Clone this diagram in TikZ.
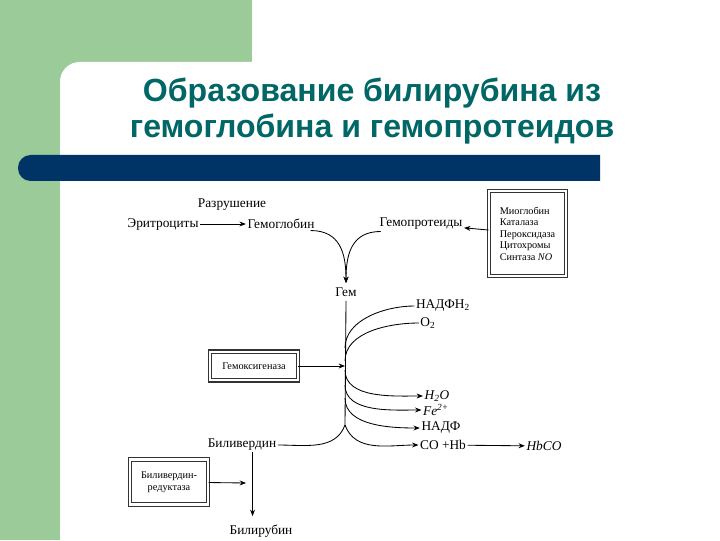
\documentclass[tikz,border=0pt]{standalone}
\usepackage{fontspec}
\setmainfont{Liberation Serif}
\newfontfamily\titlefont{Liberation Sans}
\usetikzlibrary{arrows.meta}
\definecolor{slidegreen}{RGB}{155,203,152}
\definecolor{slideblue}{RGB}{0,51,102}
\definecolor{titleteal}{RGB}{0,102,102}
\tikzset{
    lbl/.style={font=\fontsize{9.5}{11}\selectfont, inner sep=1pt},
    enzbox/.style={draw=black!80, double=white, double distance=1.5pt, line width=0.75pt,
        fill=white, font=\fontsize{7.3}{8.2}\selectfont, align=center, inner sep=2pt},
    flow/.style={-{Stealth[length=4.5pt,width=3.5pt]}, line width=0.6pt},
    link/.style={line width=0.6pt}
}

\begin{document}
\begin{tikzpicture}[x=0.025cm, y=0.025cm]
        \useasboundingbox (0,0) rectangle (720,540);
        % slide background
        \fill[slidegreen] (0,0) rectangle (252,540);
        \fill[white] (720,0) -- (60,0) [rounded corners=14pt] -- (60,478) [sharp corners] -- (720,478) -- cycle;
        \fill[slideblue] (600,385) [rounded corners=9pt] -- (18,385) -- (18,359) [sharp corners] -- (600,359) -- cycle;
        \node[text=titleteal, align=center, font=\titlefont\bfseries\fontsize{22.8}{25.8}\selectfont] (title) at (372,429)
            {Образование билирубина из\\гемоглобина и гемопротеидов};

        % top row
        \node[lbl] (razr) at (232,335) {Разрушение};
        \node[lbl] (ery) at (163,316) {Эритроциты};
        \node[lbl] (hb) at (281,316) {Гемоглобин};
        \node[lbl] (hp) at (421,316) {Гемопротеиды};
        \node[enzbox, align=left, minimum width=54.5pt, minimum height=60pt] (hpbox) at (527.5,306.5)
            {Миоглобин\\Каталаза\\Пероксидаза\\Цитохромы\\Синтаза \textit{NO}};
        \node[lbl, inner sep=3pt] (gem) at (346,248) {Гем};

        % heme oxygenase step
        \node[lbl] (nadph) at (443,234) {НАДФН\textsubscript{2}};
        \node[lbl] (otwo) at (428,217) {O\textsubscript{2}};
        \node[enzbox, minimum width=62.5pt, minimum height=20.5pt] (hox) at (254,174) {Гемоксигеназа};
        \node[lbl] (water) at (437,144) {\textit{H\textsubscript{2}O}};
        \node[lbl] (iron) at (436,130) {\textit{Fe\textsuperscript{2+}}};
        \node[lbl] (nadp) at (441,112) {НАДФ};
        \node[lbl] (co) at (443,95) {CO +Hb};
        \node[lbl] (hbco) at (544,94) {\textit{HbCO}};
        \node[lbl] (bv) at (242,95) {Биливердин};
        \node[lbl] (br) at (261,9) {Билирубин};
        \node[enzbox, minimum width=55.5pt, minimum height=32pt] (bvr) at (169,58) {Биливердин-\\редуктаза};

        % points on the heme line
        \coordinate (inA) at (345,192);
        \coordinate (inB) at (345,179);
        \coordinate (hoxin) at (345,174);
        \coordinate (outA) at (345,170);
        \coordinate (outB) at (345,155);
        \coordinate (outC) at (345,142);
        \coordinate (split) at (345,115);
        \coordinate (bvrin) at (246,57);

        \draw[flow] (ery) -- (hb);
        \draw[flow] (hpbox) -- (hp);
        \draw[flow] ([xshift=-4pt]hb.south east) to[out=0, in=90, looseness=1.2] (gem.north);
        \draw[flow] ([xshift=2pt]hp.south west) to[out=180, in=90, looseness=1.2] (gem.north);
        \draw[link] (gem.south) -- (split);
        \draw[link] (inA) to[out=90, in=180, looseness=0.9] (nadph.west);
        \draw[link] (inB) to[out=90, in=180, looseness=0.9] (otwo.west);
        \draw[flow] (hox) -- (hoxin);
        \draw[flow] (outA) to[out=-90, in=180, looseness=0.9] (water.west);
        \draw[flow] (outB) to[out=-90, in=180, looseness=0.9] (iron.west);
        \draw[flow] (outC) to[out=-90, in=180, looseness=0.9] (nadp.west);
        \draw[link] (split) to[out=-110, in=0] (bv.east);
        \draw[flow] (split) to[out=-70, in=180] (co.west);
        \draw[flow] (co) -- (hbco);
        \draw[flow, shorten >=5pt] ([xshift=7.5pt]bv.south) -- ([xshift=7.5pt]bv.south |- br.north);
        \draw[flow] (bvr) -- (bvrin);
    \end{tikzpicture}
\end{document}
